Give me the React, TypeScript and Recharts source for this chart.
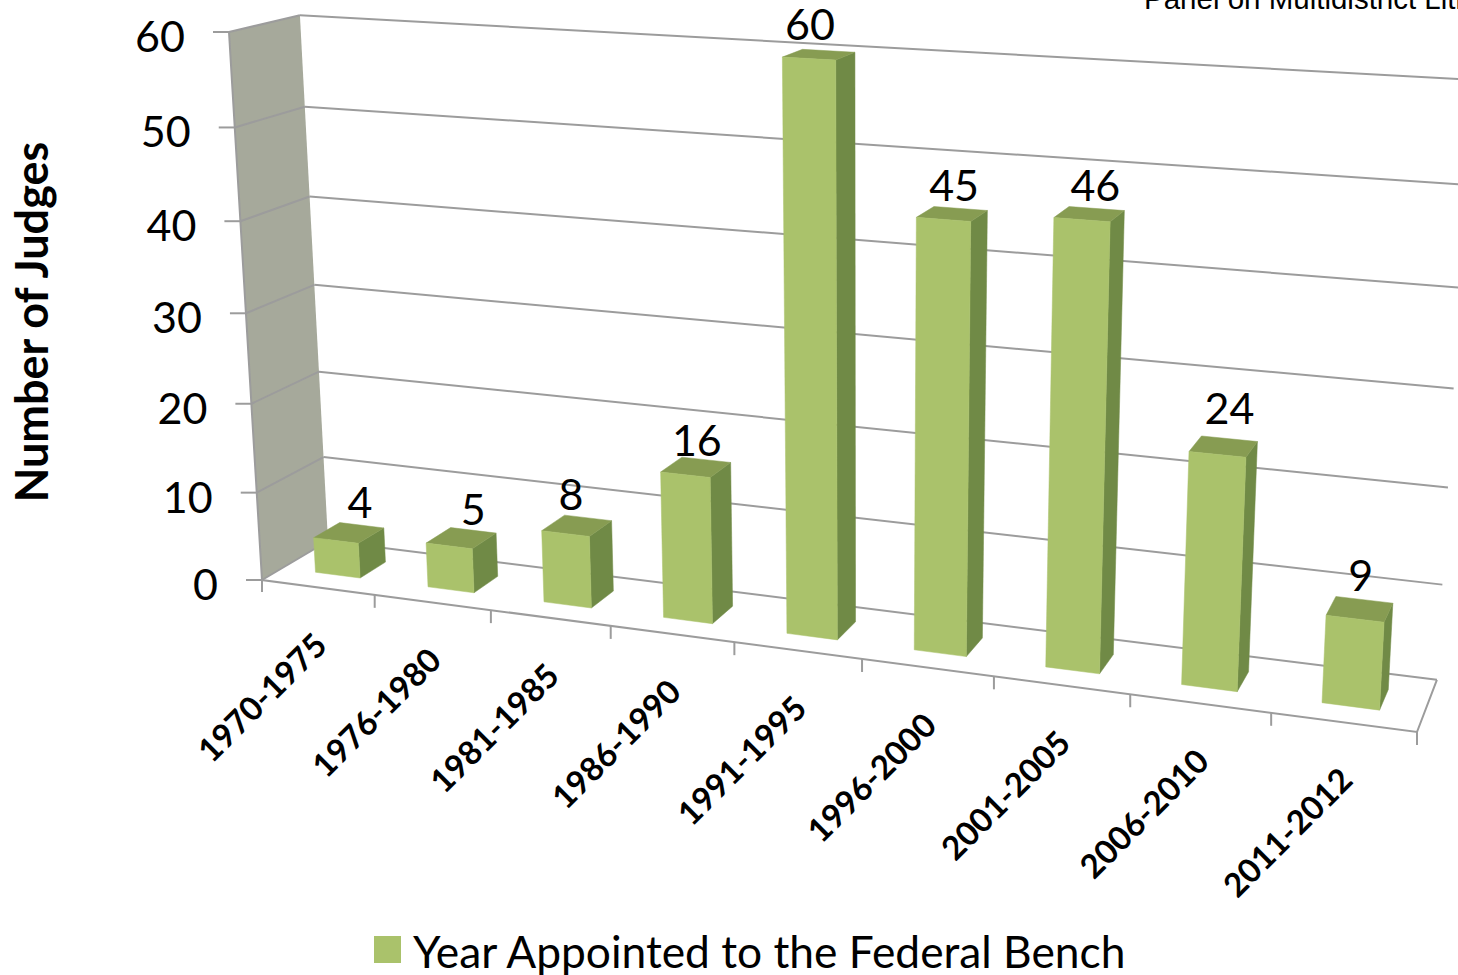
import { Bar, BarChart, CartesianGrid, LabelList, Legend, XAxis, YAxis } from "recharts"

const periods = ["1970-1975", "1976-1980", "1981-1985", "1986-1990", "1991-1995", "1996-2000", "2001-2005", "2006-2010", "2011-2012"]
const judges = [4, 5, 8, 16, 60, 45, 46, 24, 9]
const yTicks = [0, 10, 20, 30, 40, 50, 60]
const seriesName = "Year Appointed to the Federal Bench"

const data = periods.map((period, i) => ({ period, judges: judges[i] }))

// hand placed label offsets, the original chart puts these a bit unevenly
const labelNudge: Record<string, [number, number]> = {
  "1970-1975": [11, -1],
  "1976-1980": [12, 1],
  "1981-1985": [-6, -2],
  "1986-1990": [1, 3],
  "1991-1995": [-9, -1],
  "1996-2000": [2, 1],
  "2001-2005": [6, 1],
  "2006-2010": [6, -9],
  "2011-2012": [1, -4],
}

// flat plot rect recharts works in, everything gets projected from here
const PLOT = { left: 100, top: 100, width: 900, height: 600 }
const CHART_W = 1458
const CHART_H = 975

// corners of the 3d box on screen + perspective terms
const O = [262, 580]
const F1 = [1417, 732]
const T0 = [229, 32]
const B0 = [328, 541]
const PA = -0.135
const PB = -0.0518
const PC = 0.044
const Ux = F1[0] * (1 + PA) - O[0]
const Uy = F1[1] * (1 + PA) - O[1]
const Vx = T0[0] * (1 + PB) - O[0]
const Vy = T0[1] * (1 + PB) - O[1]
const Wx = B0[0] * (1 + PC) - O[0]
const Wy = B0[1] * (1 + PC) - O[1]

const project = (u: number, v: number, w: number): [number, number] => {
  const d = 1 + PA * u + PB * v + PC * w
  return [(O[0] + u * Ux + v * Vx + w * Wx) / d, (O[1] + u * Uy + v * Vy + w * Wy) / d]
}

const toU = (x: number) => (x - PLOT.left) / PLOT.width
const toV = (y: number) => (PLOT.top + PLOT.height - y) / PLOT.height
const pts = (list: [number, number][]) => list.map((p) => p.join(",")).join(" ")

const BAR_FRONT = 0.3
const BAR_BACK = 0.7
const GRID = "#9c9c9c"
const FONT = "Lato, 'Open Sans', sans-serif"

function Bar3D(props: any) {
  const { x, y, width, height } = props
  const u0 = toU(x)
  const u1 = toU(x + width)
  const v0 = toV(y + height)
  const v1 = toV(y)
  const front = [project(u0, v0, BAR_FRONT), project(u1, v0, BAR_FRONT), project(u1, v1, BAR_FRONT), project(u0, v1, BAR_FRONT)]
  const side = [project(u1, v0, BAR_FRONT), project(u1, v0, BAR_BACK), project(u1, v1, BAR_BACK), project(u1, v1, BAR_FRONT)]
  const top = [project(u0, v1, BAR_FRONT), project(u1, v1, BAR_FRONT), project(u1, v1, BAR_BACK), project(u0, v1, BAR_BACK)]
  return (
    <g>
      <polygon points={pts(side)} fill="#708a46" stroke="#708a46" strokeWidth={0.5} />
      <polygon points={pts(top)} fill="#879c52" stroke="#879c52" strokeWidth={0.5} />
      <polygon points={pts(front)} fill="#aac26b" stroke="#aac26b" strokeWidth={0.5} />
    </g>
  )
}

function GridLine(props: any) {
  const v = toV(props.y1)
  return <polyline key={v} points={pts([project(0, v, 1), project(1, v, 1)])} fill="none" stroke={GRID} strokeWidth={2} />
}

function Frame() {
  const f0 = project(0, 0, 0)
  const f1 = project(1, 0, 0)
  const b1 = project(1, 0, 1)
  const wall = [f0, project(0, 1, 0), project(0, 1, 1), project(0, 0, 1)]
  return (
    <g>
      <polygon points={pts(wall)} fill="#a6a99b" />
      <polyline points={pts([project(0, 0, 1), f0])} fill="none" stroke={GRID} strokeWidth={2} />
      <polyline points={pts([project(0, 1, 0), f0, f1, b1])} fill="none" stroke={GRID} strokeWidth={2} />
      <line x1={f0[0]} y1={f0[1]} x2={f0[0]} y2={f0[1] + 12} stroke={GRID} strokeWidth={2} />
      <text x={1144} y={9} fontFamily="'Liberation Sans', Arial, sans-serif" fontSize={29.5} fill="#000">
        Panel on Multidistrict Litigation
      </text>
      <text
        transform="translate(48 322) rotate(-90)"
        textAnchor="middle"
        fontFamily={FONT}
        fontWeight={700}
        fontSize={45}
        fill="#000"
      >
        Number of Judges
      </text>
    </g>
  )
}

function PeriodTick(props: any) {
  const { x, payload } = props
  const u = toU(x)
  const step = 1 / periods.length
  const edge = project(u + step / 2, 0, 0)
  const mid = project(u, 0, 0)
  return (
    <g>
      <line x1={edge[0]} y1={edge[1]} x2={edge[0]} y2={edge[1] + 13} stroke={GRID} strokeWidth={2} />
      <text
        transform={`translate(${mid[0] + 11} ${mid[1] + 60}) rotate(-45)`}
        textAnchor="end"
        fontFamily={FONT}
        fontWeight={700}
        fontSize={33}
        fill="#000"
      >
        {payload.value}
      </text>
    </g>
  )
}

function CountTick(props: any) {
  const { y, payload } = props
  const v = toV(y)
  const p = project(0, v, 0)
  const back = project(0, v, 1)
  return (
    <g>
      {v > 0 && <line x1={p[0]} y1={p[1]} x2={back[0]} y2={back[1]} stroke={GRID} strokeWidth={2} />}
      <line x1={p[0] - 16} y1={p[1]} x2={p[0]} y2={p[1]} stroke={GRID} strokeWidth={2} />
      <text x={p[0] - 44} y={p[1] + 20} textAnchor="end" fontFamily={FONT} fontSize={43} fill="#000">
        {payload.value}
      </text>
    </g>
  )
}

function LegendRow() {
  return (
    <div style={{ display: "flex", alignItems: "center", height: 50, whiteSpace: "nowrap" }}>
      <span style={{ display: "inline-block", width: 27, height: 27, background: "#aac26b", marginRight: 12 }} />
      <span style={{ color: "#000", fontFamily: FONT, fontSize: 44.3, position: "relative", top: 1 }}>{seriesName}</span>
    </div>
  )
}

export default function App() {
  const renderValue = (props: any) => {
    const { x, y, width, value, index } = props
    const p = project(toU(x + width / 2), toV(y), (BAR_FRONT + BAR_BACK) / 2)
    const [dx, dy] = labelNudge[periods[index]]
    return (
      <text x={p[0] + dx} y={p[1] - 14 + dy} textAnchor="middle" fontFamily={FONT} fontSize={43} fill="#000">
        {value}
      </text>
    )
  }

  return (
    <div style={{ position: "absolute", left: 0, top: 0, width: CHART_W, height: CHART_H, overflow: "hidden" }}>
      <BarChart
        width={CHART_W}
        height={CHART_H}
        data={data}
        barCategoryGap="30%"
        margin={{
          left: PLOT.left - 1,
          top: PLOT.top,
          right: CHART_W - PLOT.left - PLOT.width,
          bottom: CHART_H - PLOT.top - PLOT.height - 1,
        }}
      >
        <Frame />
        <CartesianGrid vertical={false} horizontal={GridLine} />
        <XAxis dataKey="period" height={1} interval={0} axisLine={false} tickLine={false} tick={PeriodTick} />
        <YAxis width={1} domain={[0, 60]} ticks={yTicks} interval={0} axisLine={false} tickLine={false} tick={CountTick} />
        <Legend
          layout="horizontal"
          align="center"
          verticalAlign="middle"
          wrapperStyle={{ left: 374, top: 924, width: 800, height: 50, right: "auto", bottom: "auto" }}
          content={LegendRow}
        />
        <Bar dataKey="judges" name={seriesName} fill="#aac26b" shape={Bar3D} isAnimationActive={false}>
          <LabelList dataKey="judges" content={renderValue} />
        </Bar>
      </BarChart>
    </div>
  )
}
